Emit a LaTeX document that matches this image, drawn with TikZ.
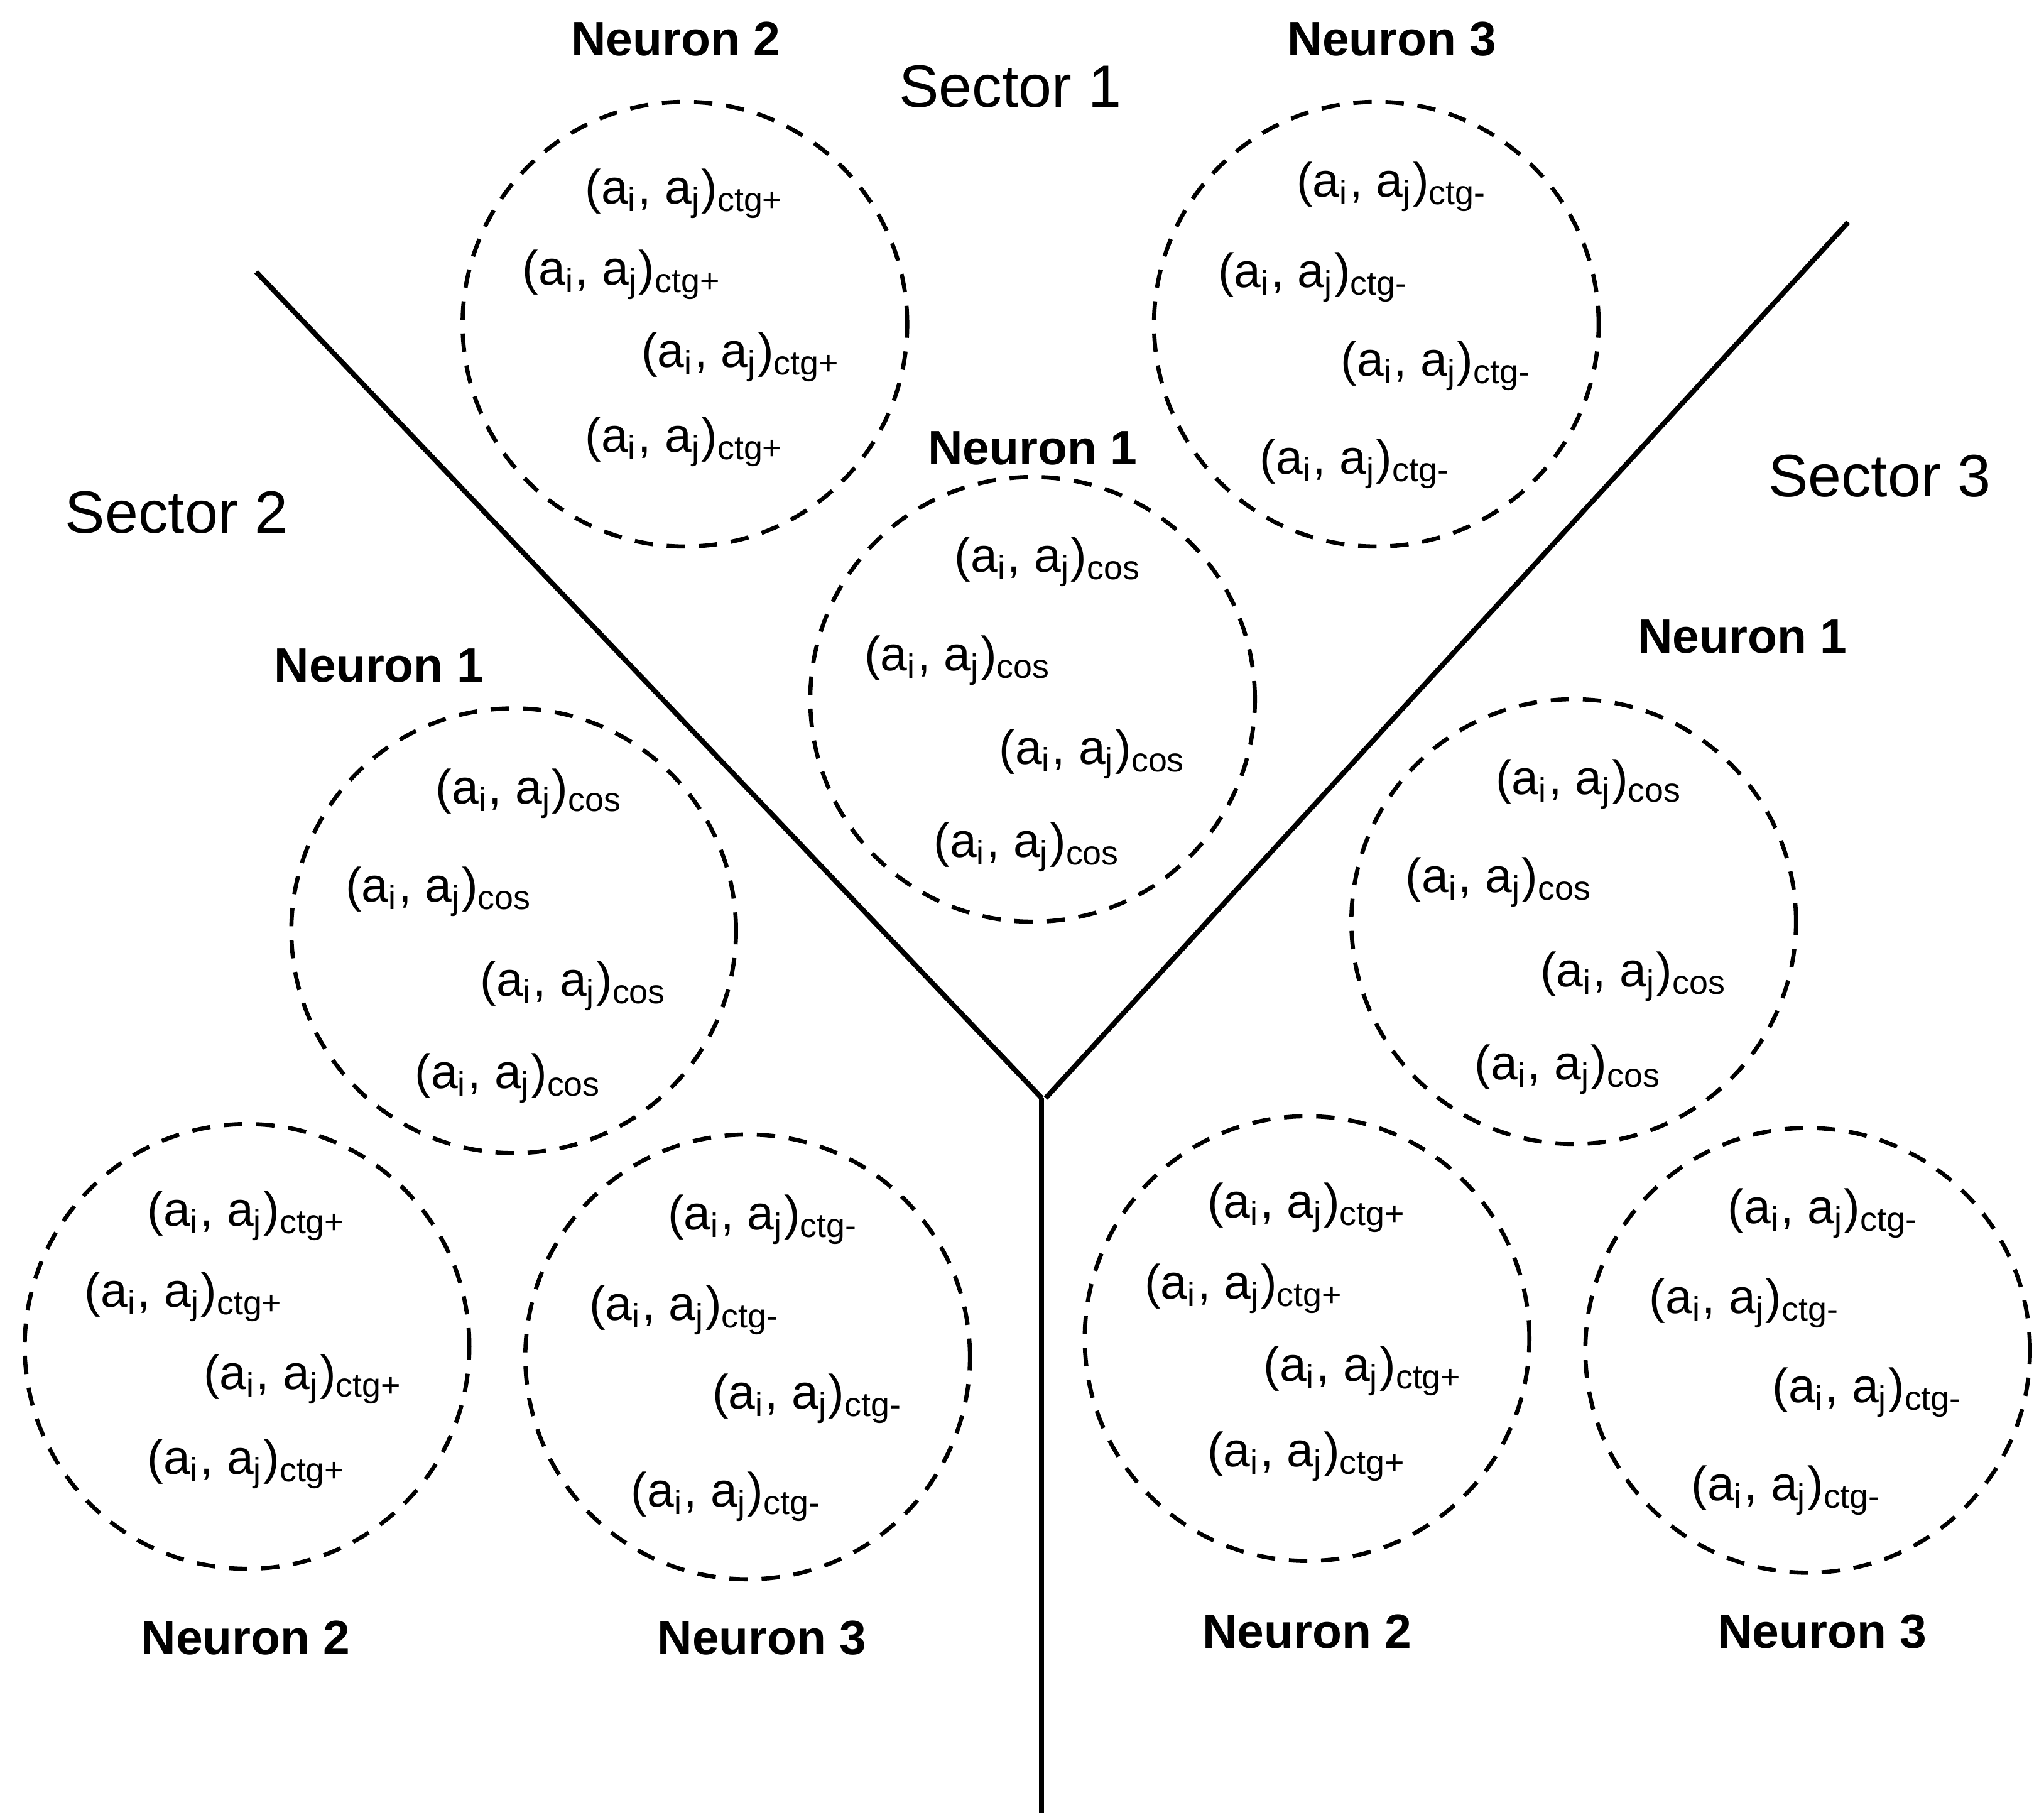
\documentclass[tikz,border=0pt]{standalone}
\usepackage{fontspec}
\setmainfont{Liberation Sans}
\begin{document}
\begin{tikzpicture}[x=0.01cm,y=-0.01cm,
  neuron/.style={circle,draw,dashed,dash pattern=on 4pt off 3pt,line width=0.9pt,minimum size=3.4cm,inner sep=0pt},
  lab/.style={font=\fontsize{10.5}{12}\selectfont\bfseries},
  sec/.style={font=\fontsize{13}{15}\selectfont},
  pt/.style={font=\fontsize{10.5}{12}\selectfont},
  ln/.style={line width=1.1pt}]
\useasboundingbox (0,0) rectangle (1560,1392);
\newcommand{\pr}[1]{(a\textsubscript{i}, a\textsubscript{j})\textsubscript{#1}}
% circles
\node[neuron] (s1n2) at (524,248) {};
\node[neuron] (s1n3) at (1053,248) {};
\node[neuron] (s1n1) at (790,535) {};
\node[neuron] (s2n1) at (393,712) {};
\node[neuron] (s2n2) at (189,1030) {};
\node[neuron] (s2n3) at (572,1038) {};
\node[neuron] (s3n1) at (1204,705) {};
\node[neuron] (s3n2) at (1000,1024) {};
\node[neuron] (s3n3) at (1383,1033) {};
% contents
\foreach \c/\t in {s1n2/ctg+,s2n2/ctg+,s3n2/ctg+}{
  \node[pt] at ([shift={(0,-100)}]\c) {\pr{\t}};
  \node[pt] at ([shift={(-48,-38)}]\c) {\pr{\t}};
  \node[pt] at ([shift={(43,25)}]\c) {\pr{\t}};
  \node[pt] at ([shift={(0,90)}]\c) {\pr{\t}};}
\foreach \c/\t in {s1n1/cos,s2n1/cos,s3n1/cos}{
  \node[pt] at ([shift={(12,-105)}]\c) {\pr{\t}};
  \node[pt] at ([shift={(-57,-30)}]\c) {\pr{\t}};
  \node[pt] at ([shift={(46,42)}]\c) {\pr{\t}};
  \node[pt] at ([shift={(-4,113)}]\c) {\pr{\t}};}
\foreach \c/\t in {s1n3/ctg-,s2n3/ctg-,s3n3/ctg-}{
  \node[pt] at ([shift={(12,-105)}]\c) {\pr{\t}};
  \node[pt] at ([shift={(-48,-36)}]\c) {\pr{\t}};
  \node[pt] at ([shift={(46,32)}]\c) {\pr{\t}};
  \node[pt] at ([shift={(-16,107)}]\c) {\pr{\t}};}
% labels
\node[lab] (l1) at (517,30) {Neuron 2};
\node[lab] (l2) at (1065,30) {Neuron 3};
\node[lab] (l3) at (790,343) {Neuron 1};
\node[lab] (l4) at (290,509) {Neuron 1};
\node[lab] (l5) at (1333,487) {Neuron 1};
\node[lab] (l6) at (188,1253) {Neuron 2};
\node[lab] (l7) at (583,1253) {Neuron 3};
\node[lab] (l8) at (1000,1248) {Neuron 2};
\node[lab] (l9) at (1394,1248) {Neuron 3};
\node[sec] (sc1) at (773,66) {Sector 1};
\node[sec] (sc2) at (135,392) {Sector 2};
\node[sec] (sc3) at (1438,364) {Sector 3};
% lines
\coordinate (a) at (196,208);
\coordinate (b) at (1414,170);
\coordinate (m1) at (797,840);
\coordinate (m2) at (800,840);
\coordinate (c) at (797,840);
\coordinate (d) at (797,1387);
\draw[ln] (a) -- (m1);
\draw[ln] (b) -- (m2);
\draw[ln] (c) -- (d);
\end{tikzpicture}
\end{document}
